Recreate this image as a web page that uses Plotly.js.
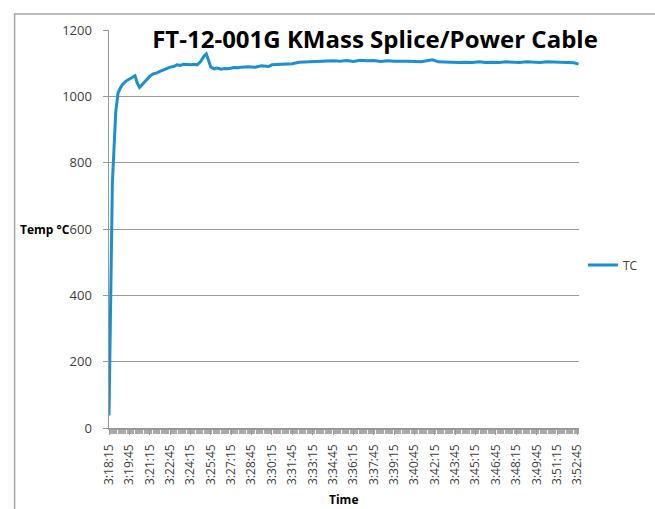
<!DOCTYPE html>
<html>
<head>
<meta charset="utf-8">
<script src="https://cdn.plot.ly/plotly-3.0.1.min.js"></script>
<style>html,body{margin:0;padding:0;background:#fff;}#chart{width:655px;height:509px;}</style>
</head>
<body>
<div id="chart"></div>
<script>
var DAY = '2012-01-01 ';
var times = ['03:18:15','03:18:30','03:18:45','03:18:55','03:19:05','03:19:15','03:19:30','03:19:45','03:20:00','03:20:10',
  '03:20:20','03:20:30','03:20:45','03:21:00','03:21:15','03:21:30','03:21:45','03:22:00','03:22:15','03:22:30',
  '03:22:45','03:23:00','03:23:15','03:23:30','03:23:45','03:24:00','03:24:15','03:24:30','03:24:45','03:25:00',
  '03:25:15','03:25:25','03:25:35','03:25:45','03:26:00','03:26:15','03:26:30','03:26:45','03:27:00','03:27:15',
  '03:27:30','03:27:45','03:28:00','03:28:30','03:29:00','03:29:30','03:30:00','03:30:15','03:30:45','03:31:15',
  '03:31:45','03:32:15','03:32:45','03:33:15','03:33:45','03:34:15','03:34:45','03:35:15','03:35:45','03:36:15',
  '03:36:45','03:37:15','03:37:45','03:38:15','03:38:45','03:39:15','03:39:45','03:40:15','03:40:45','03:41:15',
  '03:41:45','03:42:05','03:42:30','03:43:00','03:43:30','03:44:00','03:44:30','03:45:00','03:45:30','03:46:00',
  '03:46:30','03:47:00','03:47:30','03:48:00','03:48:30','03:49:00','03:49:30','03:50:00','03:50:30','03:51:00',
  '03:51:30','03:52:00','03:52:30','03:52:50'];
var tempC = [38,740,955,1010,1025,1036,1046,1052,1058,1062,
  1040,1027,1038,1050,1060,1068,1070,1075,1080,1083,
  1088,1090,1095,1093,1097,1096,1095,1097,1095,1105,
  1122,1128,1110,1088,1083,1085,1082,1084,1083,1085,
  1087,1086,1088,1089,1088,1092,1090,1095,1096,1099,
  1098,1103,1104,1106,1105,1108,1107,1106,1108,1105,
  1109,1107,1108,1105,1107,1106,1107,1106,1105,1104,
  1108,1110,1104,1103,1104,1102,1103,1102,1104,1102,
  1103,1102,1104,1103,1102,1104,1103,1102,1104,1103,
  1102,1103,1101,1097];
var seriesName = 'TC';
var chartTitle = 'FT-12-001G KMass Splice/Power Cable';
var yTitle = 'Temp \u00b0C';
var xTitle = 'Time';
var xStart = '03:18:15', xEnd = '03:52:52';

var W = 655, H = 509, L = 109, R = 587, T = 30, B = 428;
var px = function(x){ return (x - L) / (R - L); };
var py = function(y){ return (B - y) / (B - T); };

var trace = {
  x: times.map(function(t){ return DAY + t; }),
  y: tempC,
  type: 'scatter', mode: 'lines', name: seriesName,
  line: {color: '#1b90d1', width: 3}
};
var yTickFont = {family: 'Open Sans, Liberation Sans, sans-serif', size: 13, color: '#404040'};
var xTickFont = {family: 'Open Sans, Liberation Sans, sans-serif', size: 12, color: '#404040'};
var layout = {
  width: W, height: H,
  margin: {l: L, r: W - R, t: T, b: H - B, pad: 0},
  paper_bgcolor: '#ffffff', plot_bgcolor: '#ffffff',
  showlegend: true,
  legend: {x: px(591), xanchor: 'left', y: py(265), yanchor: 'middle',
    font: {family: 'Open Sans, sans-serif', size: 12, color: '#404040'}, bgcolor: 'rgba(0,0,0,0)', itemwidth: 30},
  title: {text: '<b>' + chartTitle + '</b>', x: 375 / W, xanchor: 'center', y: 1 - 40 / H, yanchor: 'middle',
    font: {family: 'Open Sans, sans-serif', size: 24, color: '#000'}},
  xaxis: {
    type: 'date', range: [DAY + xStart, DAY + xEnd],
    tick0: DAY + xStart, dtick: 90000, tickformat: '%-I:%M:%S', tickangle: -90,
    ticks: 'outside', ticklen: 5, tickcolor: '#999', ticklabelstandoff: 5,
    minor: {dtick: 5000, tick0: DAY + xStart, ticks: 'outside', ticklen: 4, tickcolor: '#aaa', showgrid: false},
    showgrid: false, zeroline: false, showline: true, linecolor: '#999', linewidth: 1.5,
    tickfont: xTickFont, fixedrange: true
  },
  yaxis: {
    range: [0, 1200], dtick: 200, tick0: 0,
    ticks: 'outside', ticklen: 5, tickcolor: '#999', ticklabelstandoff: 8,
    showgrid: true, gridcolor: '#9a9a9a', gridwidth: 1,
    zeroline: false, showline: true, linecolor: '#999', linewidth: 1.5,
    tickfont: yTickFont, fixedrange: true
  },
  annotations: [
    {text: '<b>' + yTitle + '</b>', xref: 'paper', yref: 'paper', x: px(71), y: py(229), xanchor: 'right', yanchor: 'middle',
      showarrow: false, font: {family: 'Open Sans, sans-serif', size: 12, color: '#000'}},
    {text: '<b>' + xTitle + '</b>', xref: 'paper', yref: 'paper', x: px(347), y: py(500), xanchor: 'center', yanchor: 'middle',
      showarrow: false, font: {family: 'Open Sans, sans-serif', size: 12, color: '#000'}}
  ],
  shapes: [
    {type: 'rect', xref: 'paper', yref: 'paper', x0: px(13), x1: px(670), y0: py(14), y1: py(520),
      line: {color: '#a6a6a6', width: 1.5}, fillcolor: 'rgba(0,0,0,0)', layer: 'below'}
  ]
};
Plotly.newPlot('chart', [trace], layout, {displayModeBar: false, staticPlot: true});
</script>
</body>
</html>
